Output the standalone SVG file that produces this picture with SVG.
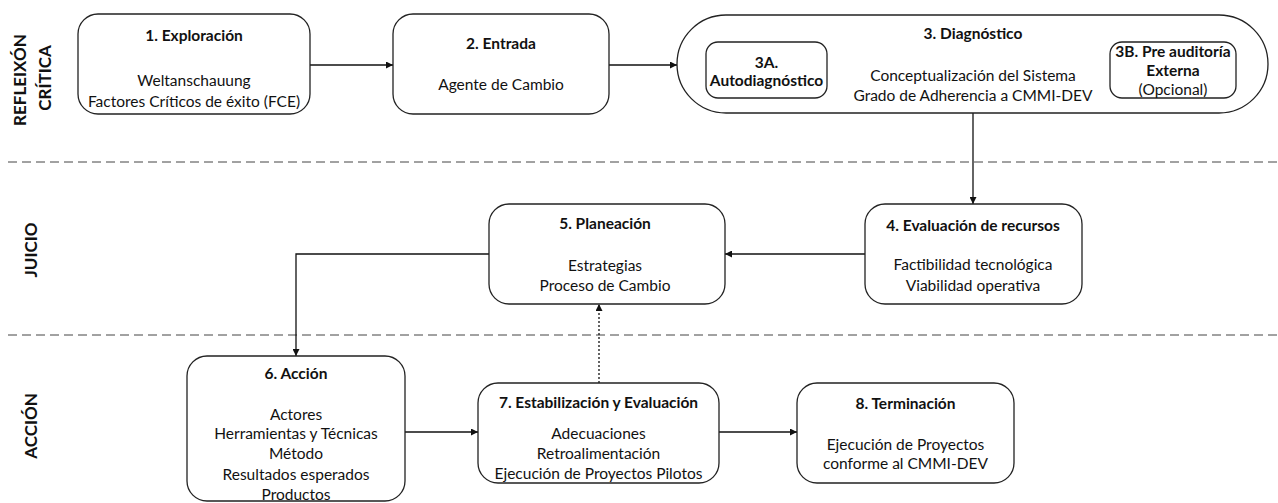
<svg xmlns="http://www.w3.org/2000/svg" width="1278" height="503" viewBox="0 0 1278 503">
<style>
.box{fill:#fff;stroke:#222;stroke-width:1.3}
.t{font-family:Lato,"Liberation Sans",sans-serif;font-size:15.5px;fill:#111;text-anchor:middle}
.b{font-weight:bold}
.side{font-family:Lato,"Liberation Sans",sans-serif;font-size:17px;font-weight:bold;fill:#111;text-anchor:middle}
.c{fill:none;stroke:#111;stroke-width:1.3}
.dash{fill:none;stroke:#444;stroke-width:1;stroke-dasharray:9,5}
</style>
<defs>
<marker id="ah" viewBox="0 0 10 10" refX="10" refY="5" markerWidth="8" markerHeight="7" markerUnits="userSpaceOnUse" orient="auto">
<path d="M0,0 L10,5 L0,10 z" fill="#111"/>
</marker>
</defs>
<rect width="1278" height="503" fill="#fff"/>

<g id="lanes">
<line class="dash" x1="8" y1="162" x2="1278" y2="162"/>
<line class="dash" x1="8" y1="335" x2="1278" y2="335"/>
<text class="side" transform="translate(20,80) rotate(-90)" y="6">REFLEIXÓN</text>
<text class="side" transform="translate(45,78) rotate(-90)" y="6">CRÍTICA</text>
<text class="side" transform="translate(31,250) rotate(-90)" y="6">JUICIO</text>
<text class="side" transform="translate(31,426) rotate(-90)" y="6">ACCIÓN</text>
</g>

<g id="connectors">
<line class="c" x1="310" y1="65" x2="393" y2="65" marker-end="url(#ah)"/>
<line class="c" x1="609" y1="65" x2="677" y2="65" marker-end="url(#ah)"/>
<line class="c" x1="973" y1="113" x2="973" y2="204" marker-end="url(#ah)"/>
<line class="c" x1="865" y1="254" x2="725" y2="254" marker-end="url(#ah)"/>
<polyline class="c" points="489,254 296,254 296,356" marker-end="url(#ah)"/>
<line class="c" x1="405" y1="432" x2="478" y2="432" marker-end="url(#ah)"/>
<line class="c" x1="719" y1="432" x2="797" y2="432" marker-end="url(#ah)"/>
<line class="c" x1="599" y1="383" x2="599" y2="304" stroke-dasharray="2,2" marker-end="url(#ah)"/>
</g>

<g id="n1">
<rect class="box" x="78" y="14" width="232" height="100" rx="20"/>
<text class="t b" x="194" y="41">1. Exploración</text>
<text class="t" x="194" y="86">Weltanschauung</text>
<text class="t" x="194" y="107">Factores Críticos de éxito (FCE)</text>
</g>

<g id="n2">
<rect class="box" x="393" y="14" width="216" height="100" rx="20"/>
<text class="t b" x="501" y="49">2. Entrada</text>
<text class="t" x="501" y="90">Agente de Cambio</text>
</g>

<g id="n3">
<rect class="box" x="677" y="15" width="591" height="98" rx="49"/>
<text class="t b" x="973" y="38.5">3. Diagnóstico</text>
<text class="t" x="973" y="80.5">Conceptualización del Sistema</text>
<text class="t" x="973" y="100.5">Grado de Adherencia a CMMI-DEV</text>
</g>

<g id="n3a">
<rect class="box" x="706" y="42" width="121" height="56" rx="12"/>
<text class="t b" x="766.5" y="67.5">3A.</text>
<text class="t b" x="766.5" y="85.5">Autodiagnóstico</text>
</g>

<g id="n3b">
<rect class="box" x="1110" y="42" width="126" height="56" rx="12"/>
<text class="t b" x="1173" y="57">3B. Pre auditoría</text>
<text class="t b" x="1173" y="75.5">Externa</text>
<text class="t" x="1173" y="95">(Opcional)</text>
</g>

<g id="n4">
<rect class="box" x="865" y="204" width="217" height="100" rx="20"/>
<text class="t b" x="973" y="230.5">4. Evaluación de recursos</text>
<text class="t" x="973" y="269.5">Factibilidad tecnológica</text>
<text class="t" x="973" y="290.5">Viabilidad operativa</text>
</g>

<g id="n5">
<rect class="box" x="489" y="204" width="236" height="100" rx="20"/>
<text class="t b" x="605" y="228.5">5. Planeación</text>
<text class="t" x="605" y="270.5">Estrategias</text>
<text class="t" x="605" y="290.5">Proceso de Cambio</text>
</g>

<g id="n6">
<rect class="box" x="187" y="356" width="218" height="145" rx="20"/>
<text class="t b" x="296" y="378.5">6. Acción</text>
<text class="t" x="296" y="419.5">Actores</text>
<text class="t" x="296" y="438.5">Herramientas y Técnicas</text>
<text class="t" x="296" y="458.5">Método</text>
<text class="t" x="296" y="479.5">Resultados esperados</text>
<text class="t" x="296" y="499.5">Productos</text>
</g>

<g id="n7">
<rect class="box" x="478" y="383" width="241" height="100" rx="20"/>
<text class="t b" x="598.5" y="407.5">7. Estabilización y Evaluación</text>
<text class="t" x="598.5" y="438.5">Adecuaciones</text>
<text class="t" x="598.5" y="458.5">Retroalimentación</text>
<text class="t" x="598.5" y="478.5">Ejecución de Proyectos Pilotos</text>
</g>

<g id="n8">
<rect class="box" x="797" y="383" width="217" height="100" rx="20"/>
<text class="t b" x="905.5" y="408.5">8. Terminación</text>
<text class="t" x="905.5" y="449.5">Ejecución de Proyectos</text>
<text class="t" x="905.5" y="468.5">conforme al CMMI-DEV</text>
</g>
</svg>
